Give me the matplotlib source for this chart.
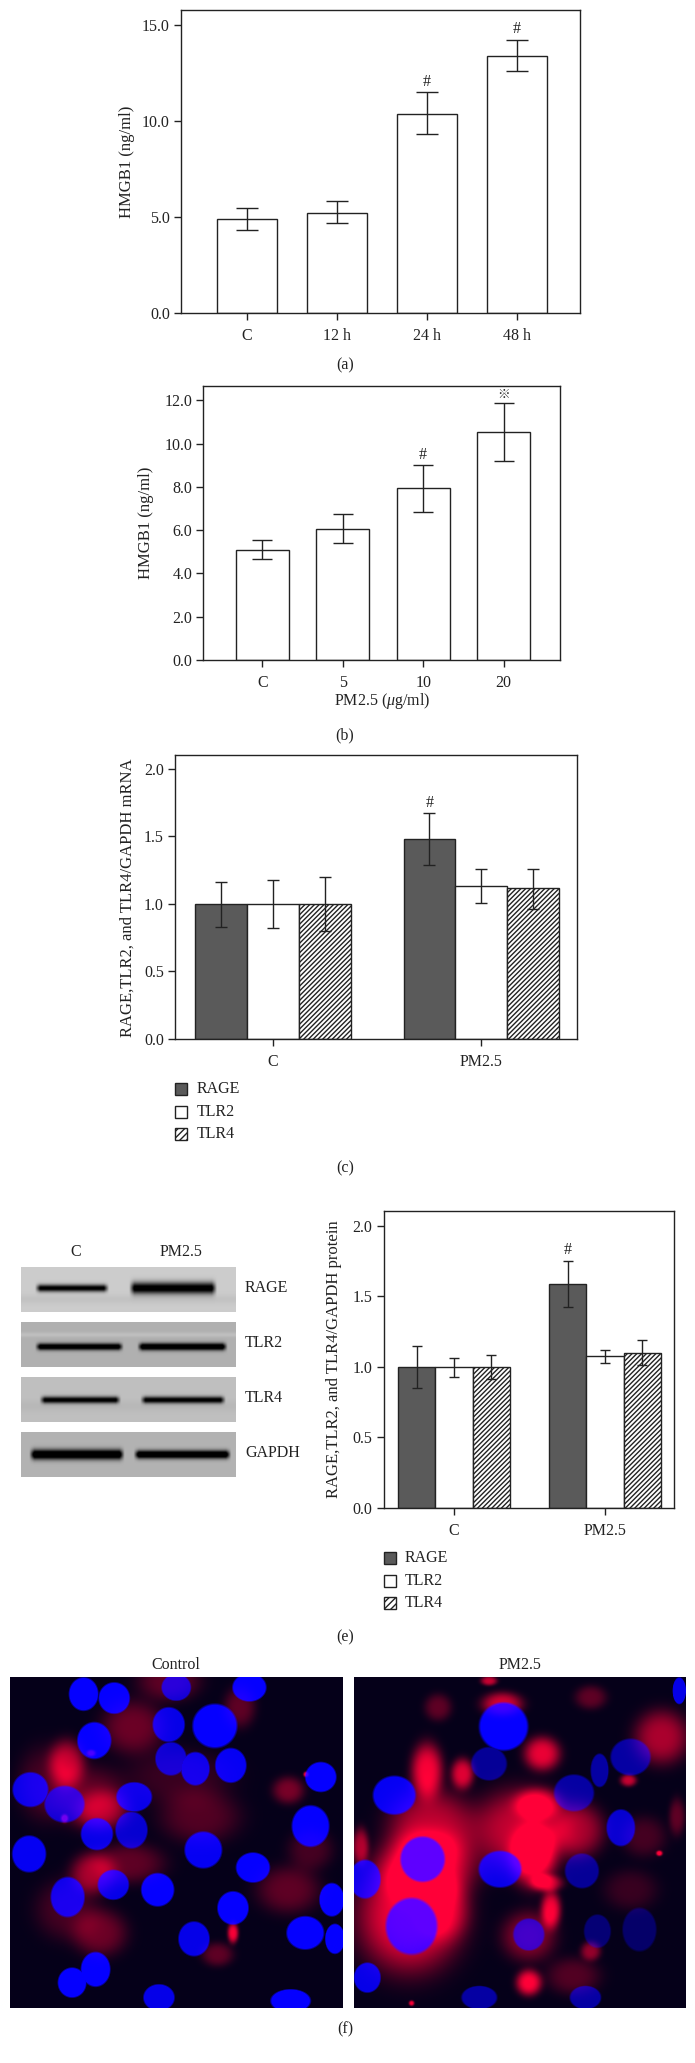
import numpy as np
import matplotlib
matplotlib.use("Agg")
import matplotlib.pyplot as plt

W, H = 695, 2063
plt.rcParams['font.family'] = ['Liberation Serif', 'Noto Sans CJK SC', 'DejaVu Sans']
plt.rcParams['mathtext.fontset'] = 'custom'
plt.rcParams['mathtext.rm'] = 'Liberation Serif'
plt.rcParams['mathtext.it'] = 'Liberation Serif:italic'
plt.rcParams['hatch.linewidth'] = 1.0
TXT = '#222222'
LINE = '#222222'
DARK = '#5a5a5a'
FS = 11.5
LW = 1.0

# ---- data ----
a_labels = ['C', '12 h', '24 h', '48 h']
a_values = [4.9, 5.2, 10.4, 13.4]
a_low = [4.35, 4.7, 9.35, 12.6]
a_high = [5.45, 5.85, 11.5, 14.25]
a_ticks = [0, 5, 10, 15]

b_labels = ['C', '5', '10', '20']
b_values = [5.1, 6.05, 7.95, 10.55]
b_low = [4.65, 5.4, 6.85, 9.2]
b_high = [5.55, 6.75, 9.0, 11.9]
b_ticks = [0, 2, 4, 6, 8, 10, 12]

groups = ['C', 'PM2.5']
series = ['RAGE', 'TLR2', 'TLR4']
c_values = [[1.0, 1.48], [1.0, 1.135], [1.0, 1.115]]
c_low = [[0.83, 1.29], [0.82, 1.01], [0.80, 0.965]]
c_high = [[1.165, 1.67], [1.18, 1.26], [1.2, 1.26]]
e_values = [[1.0, 1.585], [1.0, 1.075], [1.0, 1.1]]
e_low = [[0.85, 1.425], [0.93, 1.03], [0.91, 1.015]]
e_high = [[1.15, 1.75], [1.06, 1.12], [1.085, 1.19]]
group_ticks = [0, 0.5, 1.0, 1.5, 2.0]

blot_names = ['RAGE', 'TLR2', 'TLR4', 'GAPDH']

fig = plt.figure(figsize=(W / 100, H / 100), dpi=100, facecolor='white')


def box(l, t, r, b):
    return fig.add_axes([l / W, 1 - b / H, (r - l) / W, (b - t) / H])


def T(x, y, s, **kw):
    kw.setdefault('ha', 'center')
    kw.setdefault('va', 'center')
    kw.setdefault('fontsize', FS)
    kw.setdefault('color', TXT)
    fig.text(x / W, 1 - y / H, s, **kw)


def style(ax, yticks, fmt='%.1f'):
    for s in ax.spines.values():
        s.set_linewidth(LW)
        s.set_color(LINE)
    ax.set_yticks(yticks)
    ax.set_yticklabels([fmt % v for v in yticks])
    ax.tick_params(axis='both', length=5, width=LW, color=LINE, labelsize=FS,
                   labelcolor=TXT, pad=3)
    ax.tick_params(axis='x', pad=6)


def err(ax, x, low, high, cap):
    for xi, l, h in zip(x, low, high):
        ax.errorbar(xi, (l + h) / 2, yerr=(h - l) / 2, color=LINE, elinewidth=LW,
                    capthick=LW, capsize=cap, zorder=5)


def mark(ax, x, top, s, size=FS, off=7.7):
    ax.annotate(s, (x, top), xytext=(0, off), textcoords='offset points',
                ha='center', va='center', fontsize=size, color=TXT)


def single(box_px, labels, vals, low, high, ticks, ymax, xlim, width, cap, marks):
    ax = box(*box_px)
    x = np.arange(len(labels))
    ax.bar(x, vals, width, color='white', edgecolor=LINE, linewidth=LW)
    err(ax, x, low, high, cap)
    ax.set_xlim(*xlim)
    ax.set_ylim(0, ymax)
    ax.set_xticks(x)
    ax.set_xticklabels(labels)
    style(ax, ticks)
    for i, m in marks.items():
        if m == '#':
            mark(ax, x[i], high[i], m)
        else:
            mark(ax, x[i], high[i], m, size=9, off=5.5)
    return ax


def grouped(box_px, vals, low, high, ymax, xlim, width, cap, leg_x, leg_y, text_x):
    ax = box(*box_px)
    x = np.arange(len(groups))
    offs = [-width, 0, width]
    kws = [dict(color=DARK, edgecolor=LINE),
           dict(color='white', edgecolor=LINE),
           dict(facecolor='white', edgecolor=LINE, hatch='///////')]
    for k in range(3):
        ax.bar(x + offs[k], vals[k], width, linewidth=LW, **kws[k])
        err(ax, x + offs[k], low[k], high[k], cap)
    ax.set_xlim(*xlim)
    ax.set_ylim(0, ymax)
    ax.set_xticks(x)
    ax.set_xticklabels(groups)
    style(ax, group_ticks)
    mark(ax, x[1] + offs[0], high[0][1], '#')
    kw2 = [dict(facecolor=DARK, edgecolor=LINE),
           dict(facecolor='white', edgecolor=LINE),
           dict(facecolor='white', edgecolor=LINE, hatch='/////')]
    for k, (name, yy) in enumerate(zip(series, leg_y)):
        sq = box(leg_x, yy - 6, leg_x + 12, yy + 6)
        sq.axis('off')
        sq.add_patch(plt.Rectangle((0, 0), 1, 1, transform=sq.transAxes, linewidth=LW, clip_on=False, **kw2[k]))
        T(text_x, yy, name, ha='left')
    return ax


# ---- panel a ----
single((181, 10, 580, 313), a_labels, a_values, a_low, a_high, a_ticks, 15.8,
       (-0.73, 3.7), 0.667, 8, {2: '#', 3: '#'})
T(127, 162, 'HMGB1 (ng/ml)', rotation=90, fontsize=12)
T(345, 365, '(a)')

# ---- panel b ----
single((203.5, 386, 560, 660), b_labels, b_values, b_low, b_high, b_ticks, 12.67,
       (-0.73, 3.7), 0.663, 7.5, {2: '#', 3: '\u203b'})
T(146, 523, 'HMGB1 (ng/ml)', rotation=90, fontsize=12)
T(382, 701, r'PM2.5 ($\mu$g/ml)')
T(345, 735, '(b)')

# ---- panel c ----
grouped((175, 754.7, 577, 1039), c_values, c_low, c_high, 2.105, (-0.471, 1.46), 0.2486, 4,
        175, [1089, 1112, 1134], 197)
T(128, 898, 'RAGE,TLR2, and TLR4/GAPDH mRNA', rotation=90, fontsize=12)
T(345, 1168, '(c)')

# ---- panel e ----
grouped((383.5, 1210.7, 674, 1508), e_values, e_low, e_high, 2.105, (-0.467, 1.457), 0.248, 3.5,
        383.5, [1558, 1581, 1603], 405)
T(334, 1359, 'RAGE,TLR2, and TLR4/GAPDH protein', rotation=90, fontsize=12)
T(345, 1637, '(e)')

# ---- western blots (bands: x0, x1, centre y, half height, strength) ----
blot_tops = [1267, 1322, 1377, 1432]
blot_bg = [0.80, 0.69, 0.75, 0.70]
blot_bands = [
    [(78, 245, 0.47, 0.08, 0.85), (290, 488, 0.47, 0.13, 0.9)],
    [(78, 278, 0.55, 0.075, 0.85), (308, 512, 0.55, 0.08, 0.9)],
    [(88, 272, 0.51, 0.075, 0.8), (315, 508, 0.51, 0.075, 0.8)],
    [(65, 280, 0.50, 0.11, 0.95), (300, 520, 0.50, 0.09, 0.95)],
]
blot_shades = [
    (0.72, 0.10, -0.04), (0.28, 0.05, 0.06), (0.65, 0.12, -0.03), (0.5, 0.05, 0.0),
]
for top, bg, bands, name, shade in zip(blot_tops, blot_bg, blot_bands, blot_names, blot_shades):
    ax = box(21, top, 235.5, top + 45)
    ax.axis('off')
    xs = np.linspace(47, 530, 430)
    ys = np.linspace(0, 1, 90)
    X, Y = np.meshgrid(xs, ys)
    img = np.full(X.shape, float(bg))
    img += shade[2] * np.exp(-((Y - shade[0]) / shade[1]) ** 2)
    for x0, x1, yc, hh, s in bands:
        edge = np.clip((X - x0) / 12, 0, 1) * np.clip((x1 - X) / 12, 0, 1)
        img -= s * edge * np.exp(-((Y - yc) / hh) ** 2)
    ax.imshow(np.clip(img, 0, 1), cmap='gray', vmin=0, vmax=1, aspect='auto', interpolation='bilinear')
    T(245, top + 21, name, ha='left')
T(75.5, 1252, 'C')
T(181, 1252, 'PM2.5')

# ---- micrographs: (cx, cy, rx, ry, strength) ----
left_nuclei = [(188,130,33,50,1),(257,142,35,47,1),(397,110,33,40,.8),(562,110,38,42,1),(380,222,36,52,.9),
 (484,226,50,66,1),(212,270,38,55,1),(385,325,35,50,.8),(440,355,32,50,.9),(520,345,35,52,.95),(723,380,35,45,1),
 (68,418,40,52,.9),(145,462,45,55,.8),(302,440,40,44,.9),(218,552,36,48,.9),(296,540,36,55,.8),(700,528,42,62,1),
 (65,612,38,55,.95),(458,600,42,55,.95),(570,653,38,45,1),(255,705,35,45,.9),(355,720,37,50,1),(152,742,38,60,.9),
 (525,775,35,50,1),(748,750,28,50,1),(688,850,42,50,1),(437,868,35,52,.9),(755,868,22,45,1),(215,960,33,52,1),
 (162,1000,32,45,1),(358,1045,35,40,.9),(655,1055,45,35,1)]
left_red = [(150,340,40,70,.7),(300,230,70,80,.4),(205,308,10,10,1),(145,505,8,12,1),(690,372,6,8,1),
 (230,480,60,60,.5),(450,500,90,80,.3),(650,420,35,40,.45),(210,670,50,60,.6),(290,640,80,60,.35),(650,720,70,70,.35),
 (525,850,12,30,.95),(225,850,60,70,.4),(490,915,35,35,.35),(540,170,35,60,.35),(380,90,70,60,.35),(100,400,60,110,.25),
 (200,440,80,90,.35),(150,780,70,90,.25),(400,380,120,80,.2),(700,600,50,60,.25)]
right_nuclei = [(1133,228,55,72,1),(1100,340,40,50,.55),(886,435,48,58,.95),(1292,428,45,55,.6),(1420,320,45,55,.6),
 (1350,360,20,50,.6),(1398,533,32,55,.8),(950,628,50,68,.9),(1125,658,48,55,.9),(1310,663,38,52,.55),(820,688,35,58,.9),
 (925,830,58,85,.9),(1190,855,35,48,.7),(1345,845,30,50,.4),(1440,840,38,65,.35),(825,985,30,45,.9),(1078,1045,40,35,.6),
 (1318,1045,35,35,.6),(1530,120,15,40,.9)]
right_red = [(960,360,35,80,.95),(1220,310,40,50,.9),(1130,160,45,35,.8),(1040,370,25,45,.85),(1490,260,60,80,.65),
 (970,530,95,110,.7),(1170,540,105,120,.75),(960,650,105,100,.9),(1200,620,50,90,.95),(920,800,115,165,.95),(1000,780,55,90,.45),
 (1240,780,22,55,.95),(1210,460,50,45,.75),(1300,540,60,80,.6),(1190,1000,28,38,1),(1485,610,7,8,1),(1330,905,22,28,.55),
 (1100,90,18,14,.75),(985,170,30,40,.35),(1330,140,35,35,.35),(1415,390,18,18,.75),(1230,700,35,25,.75),(1190,860,60,75,.5),
 (1290,980,60,55,.3),(925,1062,6,8,.95),(1525,500,18,55,.35),(810,590,18,55,.65),(1450,560,50,60,.25),(1420,720,60,60,.2)]


def micro(l, r, x0, x1, nuclei, red):
    ax = box(l, 1677, r, 2008)
    ax.axis('off')
    xs = np.linspace(x0, x1, 333)
    ys = np.linspace(80, 1075, 331)
    X, Y = np.meshgrid(xs, ys)
    R = np.zeros_like(X)
    for cx, cy, rx, ry, s in red:
        R += s * np.exp(-(((X - cx) / rx) ** 2 + ((Y - cy) / ry) ** 2) ** 1.6)
    B = np.zeros_like(X)
    for cx, cy, rx, ry, s in nuclei:
        d = np.sqrt(((X - cx) / rx) ** 2 + ((Y - cy) / ry) ** 2)
        B = np.maximum(B, s * np.clip((1.06 - d) / 0.12, 0, 1))
    R = np.clip(R, 0, 1)
    rgb = np.dstack([0.02 + R * (1 - 0.72 * B), 0.0 * R, 0.10 + 0.12 * R + 0.9 * B])
    ax.imshow(np.clip(rgb, 0, 1), aspect='auto', interpolation='bilinear')


micro(10, 343, 23, 772, left_nuclei, left_red)
micro(354, 686, 796, 1544, right_nuclei, right_red)
T(176, 1665, 'Control')
T(520, 1665, 'PM2.5')
T(345, 2029, '(f)')

fig.savefig('out.png', dpi=100, facecolor='white')
